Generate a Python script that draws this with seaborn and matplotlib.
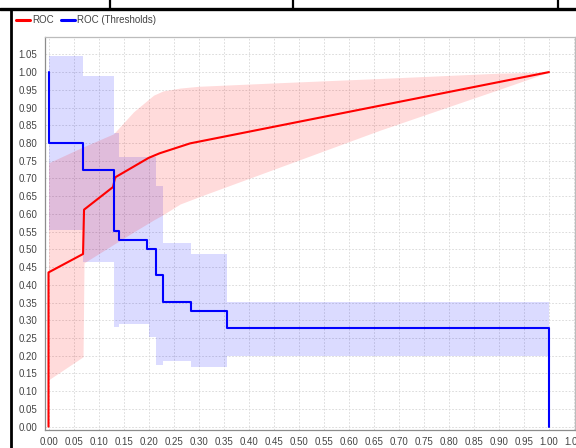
import numpy as np
import pandas as pd
import matplotlib
matplotlib.use("Agg")
import matplotlib.pyplot as plt
from matplotlib.lines import Line2D
import seaborn as sns

# ROC curve (averaged) and its standard-deviation band
roc_fpr = [0.0, 0.0, 0.069, 0.071, 0.129, 0.133, 0.200, 0.222, 0.283, 1.0]
roc_tpr = [0.0, 0.435, 0.487, 0.612, 0.676, 0.703, 0.758, 0.771, 0.799, 1.0]

band_fpr = [0.0, 0.069, 0.071, 0.13, 0.17, 0.21, 0.229, 0.263, 0.30, 0.46, 0.662, 0.90, 1.0]
band_upper = [0.744, 0.789, 0.790, 0.826, 0.888, 0.935, 0.947, 0.955, 0.960, 0.970, 0.982, 0.997, 1.0]
band_lower = [0.132, 0.197, 0.462, 0.514, 0.549, 0.583, 0.598, 0.628, 0.648, 0.731, 0.836, 0.951, 1.0]

# ROC thresholds (step curve) and its band
thr_fpr = [0.0, 0.0, 0.069, 0.131, 0.141, 0.197, 0.214, 0.229, 0.285, 0.356, 1.0]
thr_val = [1.0, 0.80, 0.725, 0.553, 0.527, 0.502, 0.427, 0.351, 0.326, 0.277, 0.0]

thr_band_fpr = [0.0, 0.069, 0.131, 0.141, 0.200, 0.214, 0.229, 0.285, 0.356, 1.0]
thr_band_lower = [0.555, 0.465, 0.282, 0.290, 0.252, 0.174, 0.186, 0.167, 0.200, 0.200]
thr_band_upper = [1.045, 0.990, 0.828, 0.760, 0.760, 0.680, 0.517, 0.487, 0.352, 0.352]

ticks = np.round(np.arange(0, 1.051, 0.05), 2)
tick_labels = [f"{t:.2f}" for t in ticks]

sns.set_style("white")
plt.rcParams["font.family"] = ["Liberation Sans", "DejaVu Sans"]

W, H = 576, 448
fig = plt.figure(figsize=(W / 100, H / 100), dpi=100)
fig.patch.set_facecolor("white")
ax = fig.add_axes([44.5 / W, 1 - 429.5 / H, (575 - 44.5) / W, (429.5 - 37) / H])
ax.set_facecolor("white")

red = "#ff0000"
blue = "#0000ff"

ax.fill_between(thr_band_fpr, thr_band_lower, thr_band_upper, step="post",
                color=blue, alpha=0.14, linewidth=0, zorder=1)
ax.fill_between(band_fpr, band_lower, band_upper, color=red, alpha=0.14,
                linewidth=0, zorder=1)

roc_df = pd.DataFrame({"fpr": roc_fpr, "tpr": roc_tpr})
thr_df = pd.DataFrame({"fpr": thr_fpr, "val": thr_val})
sns.lineplot(data=roc_df, x="fpr", y="tpr", estimator=None, sort=False,
             color=red, linewidth=1.5, ax=ax, zorder=3)
sns.lineplot(data=thr_df, x="fpr", y="val", estimator=None, sort=False,
             color=blue, linewidth=1.5, drawstyle="steps-post", ax=ax, zorder=3)

ax.set_xlim(-0.008, 1.052)
ax.set_ylim(-0.008, 1.099)
ax.set_xticks(ticks)
ax.set_xticklabels(tick_labels)
ax.set_yticks(ticks)
ax.set_yticklabels(tick_labels)
ax.set_xlabel("")
ax.set_ylabel("")

ax.grid(True, color="#d6d6d6", linestyle=(0, (2, 2)), linewidth=0.6, zorder=0)
ax.set_axisbelow(True)
ax.tick_params(axis="both", direction="out", length=2.2, width=0.6, color="#888888",
               labelsize=7, labelcolor="#444444", pad=3)
for side in ["left", "bottom"]:
    ax.spines[side].set_color("#8c8c8c")
    ax.spines[side].set_linewidth(0.9)
for side in ["top", "right"]:
    ax.spines[side].set_color("#bcbcbc")
    ax.spines[side].set_linewidth(0.9)

handles = [Line2D([], [], color=red, linewidth=2.2),
           Line2D([], [], color=blue, linewidth=2.2)]
fig.legend(handles, ["ROC", "ROC (Thresholds)"], loc="upper left",
           bbox_to_anchor=(13 / W, 1 - 12 / H), ncol=2, frameon=False,
           fontsize=7, handlelength=1.45, handletextpad=0.25, columnspacing=0.7,
           labelcolor="#444444", borderaxespad=0, borderpad=0.3)

# surrounding window frame lines
def fig_line(x0, y0, x1, y1, lw):
    fig.add_artist(Line2D([x0 / W, x1 / W], [1 - y0 / H, 1 - y1 / H],
                          color="black", linewidth=lw, transform=fig.transFigure))

fig_line(0, 9, W, 9, 2.4)
fig_line(11, 9, 11, H, 2.0)
for xv in (110, 293, 558):
    fig_line(xv, 0, xv, 9, 1.6)

fig.savefig("out.png", dpi=100, facecolor="white")
